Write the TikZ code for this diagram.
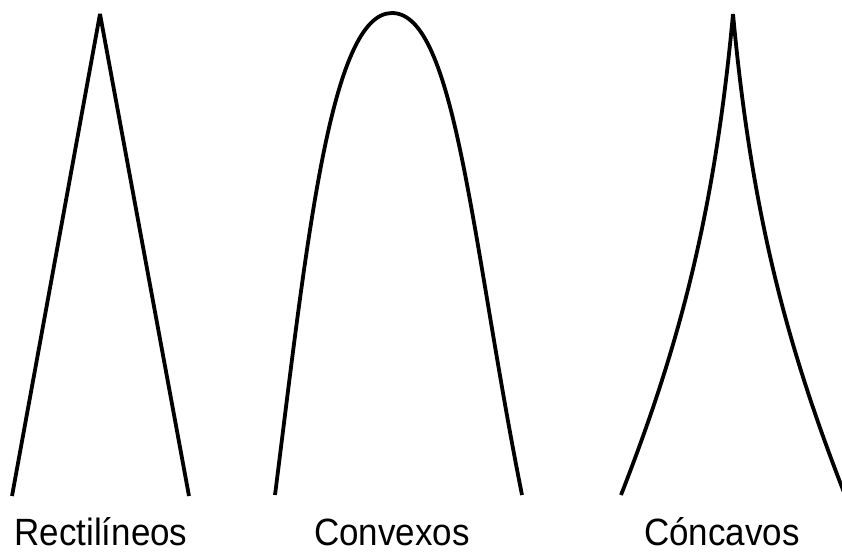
\documentclass[tikz,border=0pt]{standalone}
\usepackage{fontspec}
\setmainfont{Liberation Sans}[FakeStretch=0.92]
\begin{document}
\begin{tikzpicture}[x=1pt,y=-1pt,
  curve/.style={line width=3.8pt,black},
  lbl/.style={anchor=base,inner sep=0pt,font=\fontsize{38}{42}\selectfont}]
\useasboundingbox (0,0) rectangle (842,554);
% Rectilineos
\coordinate (rl) at (12,496);
\coordinate (ra) at (100,14);
\coordinate (rr) at (189,496);
\draw[curve,line join=bevel] (rl) -- (ra) -- (rr);
% Convexos
\coordinate (cl) at (275,495);
\coordinate (ca) at (392,13);
\coordinate (cr) at (522,495);
\draw[curve] (cl) .. controls (306.6,245) and (330,13) .. (ca)
                  .. controls (456,13) and (472,245) .. (cr);
% Concavos
\coordinate (kl) at (621,495);
\coordinate (ka) at (733,14);
\coordinate (kr) at (845,495);
\draw[curve] (kl) .. controls (679.5,345) and (714.4,214) .. (ka)
                  .. controls (751.6,214) and (786.5,345) .. (kr);
% labels
\node[lbl] (t1) at (101,545) {Rectilíneos};
\node[lbl] (t2) at (392,545) {Convexos};
\node[lbl] (t3) at (722,545) {Cóncavos};
\end{tikzpicture}
\end{document}
